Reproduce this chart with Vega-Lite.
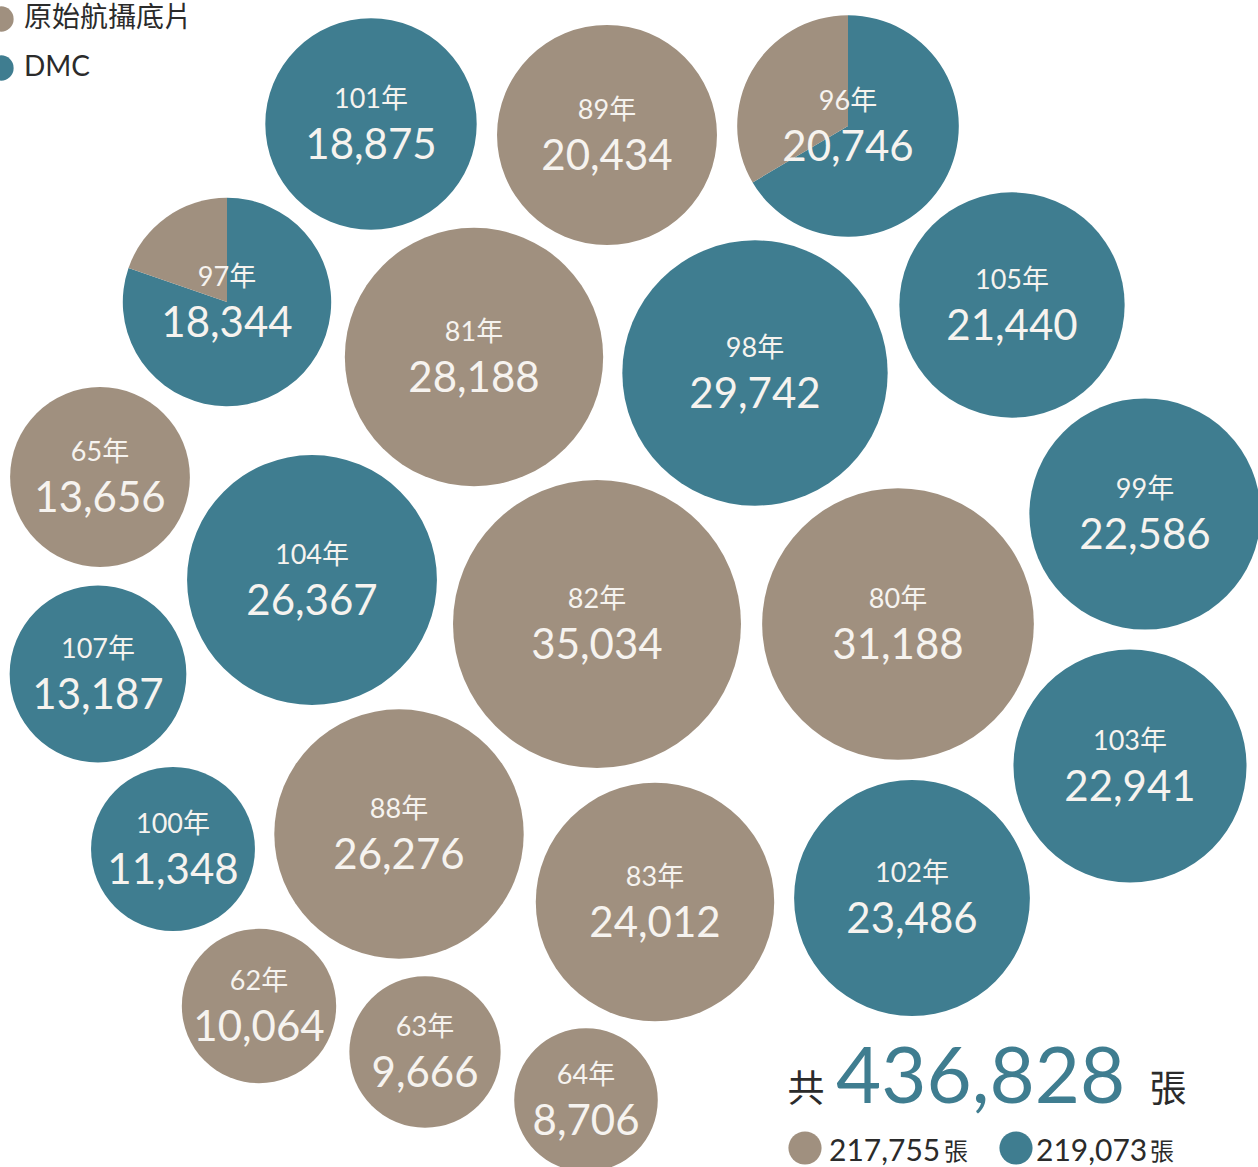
{
  "$schema": "https://vega.github.io/schema/vega-lite/v6.json",
  "width": 1258,
  "height": 1167,
  "autosize": "none",
  "padding": 0,
  "background": "white",
  "config": {
    "view": {"stroke": null},
    "font": "Lato, Noto Sans CJK TC, sans-serif",
    "legend": {
      "orient": "none",
      "legendX": -13,
      "legendY": 5,
      "padding": 0,
      "title": null,
      "labelFontSize": 28,
      "labelColor": "#2b2b2b",
      "labelFont": "Lato, Noto Sans CJK TC, sans-serif",
      "labelLimit": 400,
      "symbolType": "circle",
      "symbolSize": 640,
      "symbolOpacity": 1,
      "symbolStrokeWidth": 0,
      "rowPadding": 21,
      "labelOffset": 9
    }
  },
  "datasets": {
    "bubbles": [
      {"year": "101年", "total": 18875, "type": "DMC", "x": 371, "y": 124},
      {"year": "89年", "total": 20434, "type": "原始航攝底片", "x": 607, "y": 135},
      {"year": "96年", "total": 20746, "type": "混合", "x": 848, "y": 126},
      {"year": "97年", "total": 18344, "type": "混合", "x": 227, "y": 302},
      {"year": "81年", "total": 28188, "type": "原始航攝底片", "x": 474, "y": 357},
      {"year": "98年", "total": 29742, "type": "DMC", "x": 755, "y": 373},
      {"year": "105年", "total": 21440, "type": "DMC", "x": 1012, "y": 305},
      {"year": "65年", "total": 13656, "type": "原始航攝底片", "x": 100, "y": 477},
      {"year": "104年", "total": 26367, "type": "DMC", "x": 312, "y": 580},
      {"year": "82年", "total": 35034, "type": "原始航攝底片", "x": 597, "y": 624},
      {"year": "80年", "total": 31188, "type": "原始航攝底片", "x": 898, "y": 624},
      {"year": "99年", "total": 22586, "type": "DMC", "x": 1145, "y": 514},
      {"year": "107年", "total": 13187, "type": "DMC", "x": 98, "y": 674},
      {"year": "103年", "total": 22941, "type": "DMC", "x": 1130, "y": 766},
      {"year": "100年", "total": 11348, "type": "DMC", "x": 173, "y": 849},
      {"year": "88年", "total": 26276, "type": "原始航攝底片", "x": 399, "y": 834},
      {"year": "83年", "total": 24012, "type": "原始航攝底片", "x": 655, "y": 902},
      {"year": "102年", "total": 23486, "type": "DMC", "x": 912, "y": 898},
      {"year": "62年", "total": 10064, "type": "原始航攝底片", "x": 259, "y": 1006},
      {"year": "63年", "total": 9666, "type": "原始航攝底片", "x": 425, "y": 1052},
      {"year": "64年", "total": 8706, "type": "原始航攝底片", "x": 586, "y": 1100}
    ],
    "pies": [
      {"year": "96年", "total": 20746, "type": "DMC", "count": 13796, "x": 848, "y": 126},
      {"year": "96年", "total": 20746, "type": "原始航攝底片", "count": 6950, "x": 848, "y": 126},
      {"year": "97年", "total": 18344, "type": "DMC", "count": 14730, "x": 227, "y": 302},
      {"year": "97年", "total": 18344, "type": "原始航攝底片", "count": 3614, "x": 227, "y": 302}
    ]
  },
  "encoding": {
    "x": {"field": "x", "type": "quantitative", "scale": {"domain": [0, 1258], "nice": false, "zero": false}, "axis": null},
    "y": {"field": "y", "type": "quantitative", "scale": {"domain": [0, 1167], "nice": false, "zero": false, "reverse": true}, "axis": null}
  },
  "layer": [
    {
      "data": {"name": "bubbles"},
      "transform": [{"filter": "datum.type !== '混合'"}],
      "mark": {"type": "circle", "opacity": 1},
      "encoding": {
        "size": {"field": "total", "type": "quantitative", "scale": {"domain": [0, 35034], "range": [0, 82944], "zero": true}, "legend": null},
        "color": {"field": "type", "type": "nominal", "scale": {"domain": ["原始航攝底片", "DMC"], "range": ["#a0907f", "#3f7d90"]}, "legend": {}}
      }
    },
    {
      "data": {"name": "pies"},
      "transform": [{"stack": "count", "groupby": ["year"], "sort": [{"field": "type", "order": "ascending"}], "offset": "normalize", "as": ["t0", "t1"]}],
      "mark": {"type": "arc", "opacity": 1},
      "encoding": {
        "theta": {"field": "t0", "type": "quantitative", "scale": {"domain": [0, 1], "range": [0, 6.283185307]}},
        "theta2": {"field": "t1"},
        "radius": {"field": "total", "type": "quantitative", "scale": {"type": "sqrt", "domain": [0, 35034], "range": [0, 144], "zero": true}},
        "color": {"field": "type", "type": "nominal"}
      }
    },
    {
      "data": {"name": "bubbles"},
      "mark": {"type": "text", "dy": -24, "fontSize": 27, "color": "#f6f3ef", "align": "center", "baseline": "middle"},
      "encoding": {"text": {"field": "year"}}
    },
    {
      "data": {"name": "bubbles"},
      "mark": {"type": "text", "dy": 22, "fontSize": 42, "color": "#f6f3ef", "align": "center", "baseline": "middle"},
      "encoding": {"text": {"field": "total", "type": "quantitative", "format": ","}}
    },
    {
      "data": {"values": [{"label": "共", "x": 806, "y": 1091}, {"label": "張", "x": 1168, "y": 1091}]},
      "mark": {"type": "text", "fontSize": 37, "color": "#2b2b2b", "align": "center", "baseline": "middle", "font": "Noto Sans CJK TC"},
      "encoding": {"text": {"field": "label"}}
    },
    {
      "data": {"values": [{"label": 436828, "x": 836, "y": 1103}]},
      "mark": {"type": "text", "fontSize": 78, "color": "#3f7d90", "align": "left", "baseline": "alphabetic"},
      "encoding": {"text": {"field": "label", "type": "quantitative", "format": ","}}
    },
    {
      "data": {"values": [{"type": "原始航攝底片", "x": 805, "y": 1148}, {"type": "DMC", "x": 1016, "y": 1148}]},
      "mark": {"type": "circle", "opacity": 1, "size": 1100},
      "encoding": {"color": {"field": "type", "type": "nominal"}}
    },
    {
      "data": {"values": [{"label": 217755, "x": 829, "y": 1161}, {"label": 219073, "x": 1036, "y": 1161}]},
      "mark": {"type": "text", "fontSize": 30, "color": "#2b2b2b", "align": "left", "baseline": "alphabetic"},
      "encoding": {"text": {"field": "label", "type": "quantitative", "format": ","}}
    },
    {
      "data": {"values": [{"label": "張", "x": 956, "y": 1160}, {"label": "張", "x": 1162, "y": 1160}]},
      "mark": {"type": "text", "fontSize": 24, "color": "#2b2b2b", "align": "center", "baseline": "alphabetic", "font": "Noto Sans CJK TC"},
      "encoding": {"text": {"field": "label"}}
    }
  ]
}
